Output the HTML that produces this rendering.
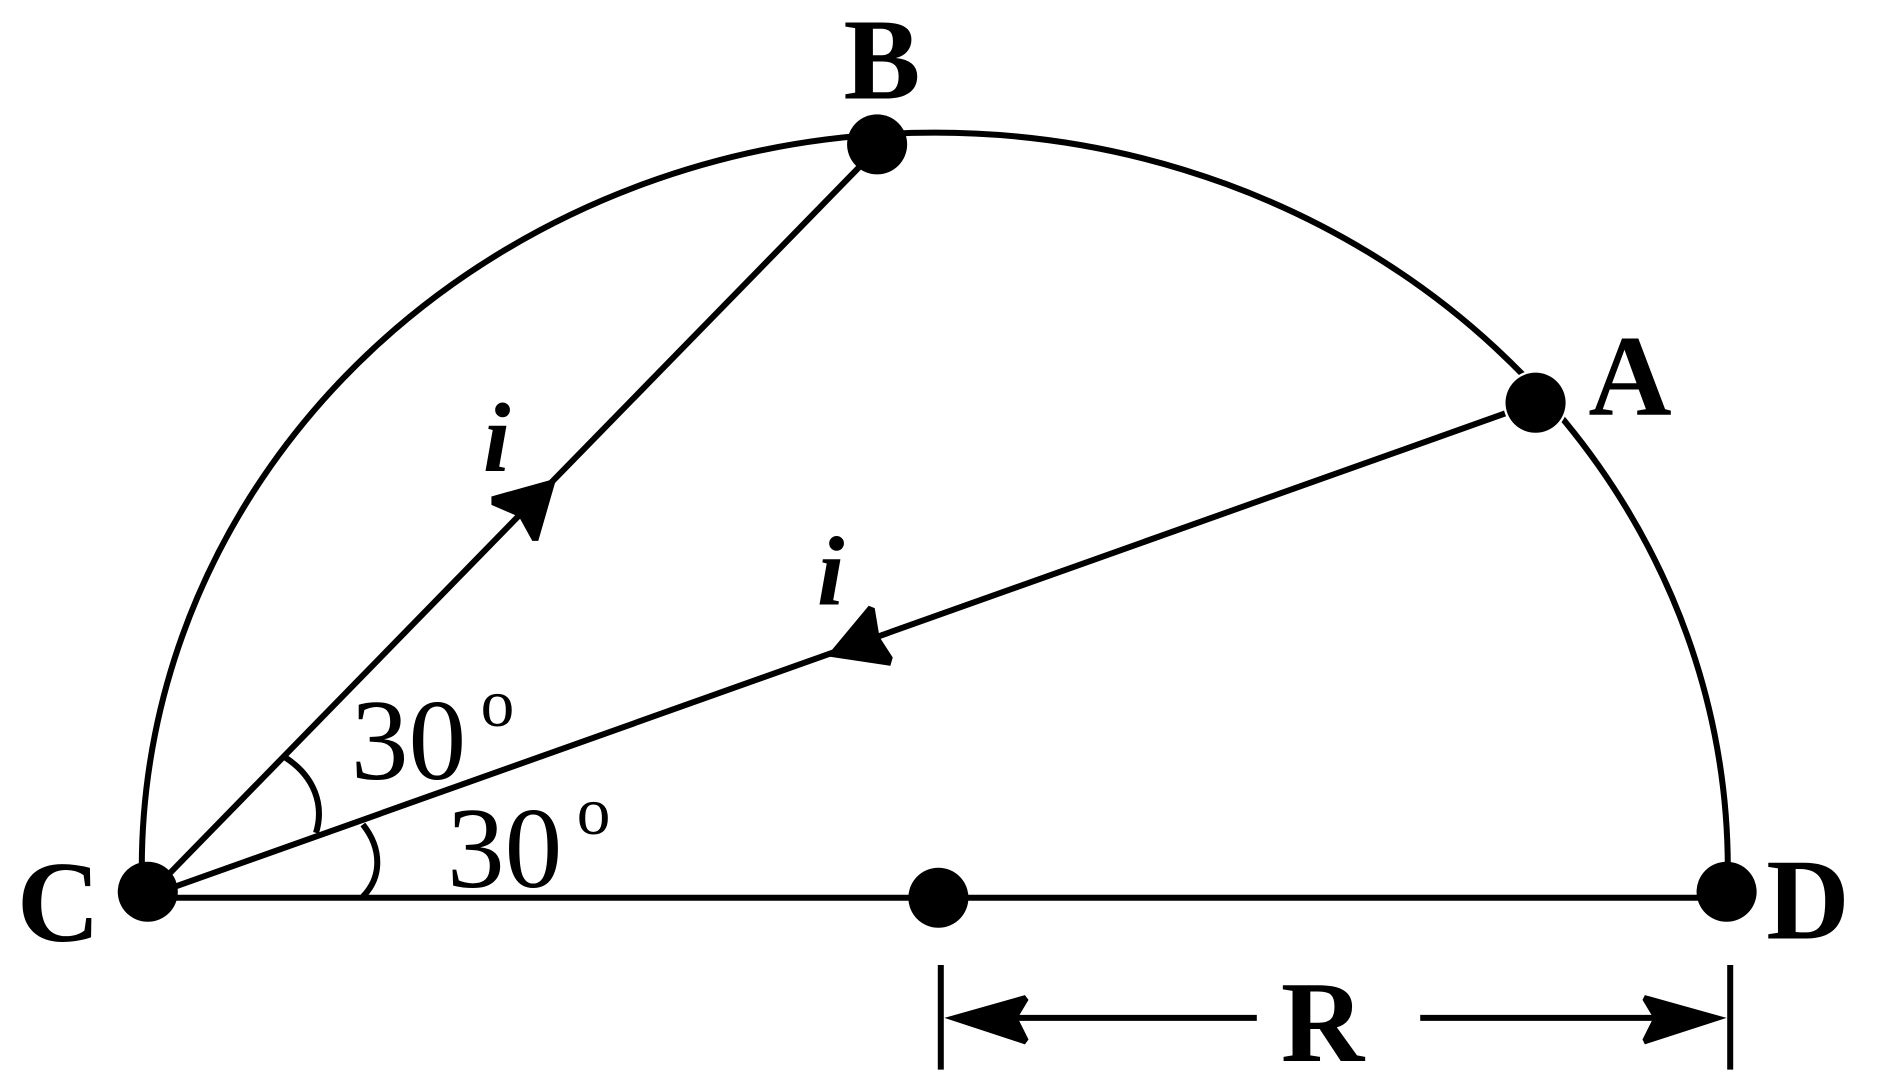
<!DOCTYPE html>
<html><head><style>html,body{margin:0;padding:0;background:#fff}svg{display:block}
text{font-family:"Liberation Serif","Times New Roman",serif}</style></head>
<body>
<svg width="1884" height="1089" viewBox="0 0 1568 906" xmlns="http://www.w3.org/2000/svg">
<g fill="none" stroke="#000" stroke-width="5">
<path d="M118,722 A660,612 0 0 1 1438,722"/>
<line x1="138" y1="730" x2="716" y2="138"/>
<line x1="145" y1="738" x2="1258" y2="342"/>
<line x1="145" y1="747" x2="1415" y2="747"/>
<path d="M237,630 C262,646 270,670 263,693"/>
<path d="M302,686 C318,706 318,730 302,746"/>
<line x1="783" y1="803" x2="783" y2="890"/>
<line x1="1440" y1="803" x2="1440" y2="890"/>
<line x1="800" y1="847" x2="1046" y2="847"/>
<line x1="1182" y1="847" x2="1425" y2="847"/>
</g>
<g fill="#000">
<polygon points="463,398 409,413 409,420 432,430 443,450 448,450"/>
<polygon points="688,546 723,504 728,506 732,530 743,547 741,554"/>
<polygon points="786,847 853,828 856,832 847,847 856,865 853,869"/>
<polygon points="1437,847 1369,828 1367,832 1376,847 1367,865 1369,869"/>
<circle cx="1278" cy="335" r="27" fill="#fff"/>
<circle cx="123" cy="742" r="25"/>
<circle cx="781" cy="747" r="25"/>
<circle cx="1437" cy="742" r="25"/>
<circle cx="730" cy="120" r="25"/>
<circle cx="1278" cy="335" r="25"/>
</g>
<g fill="#000">
<text x="402" y="392" font-size="82" font-style="italic" font-weight="bold">i</text>
<text x="680" y="503" font-size="82" font-style="italic" font-weight="bold">i</text>
<text x="292" y="648" font-size="96">30</text>
<text x="400" y="604" font-size="56">o</text>
<text x="372" y="738" font-size="96">30</text>
<text x="480" y="694" font-size="56">o</text>
<text x="702" y="82" font-size="96" font-weight="bold">B</text>
<text x="1322" y="345" font-size="96" font-weight="bold">A</text>
<text x="14" y="783" font-size="96" font-weight="bold">C</text>
<text x="1470" y="781" font-size="96" font-weight="bold">D</text>
<text x="1066" y="883" font-size="96" font-weight="bold">R</text>
</g>
</svg>
</body></html>
